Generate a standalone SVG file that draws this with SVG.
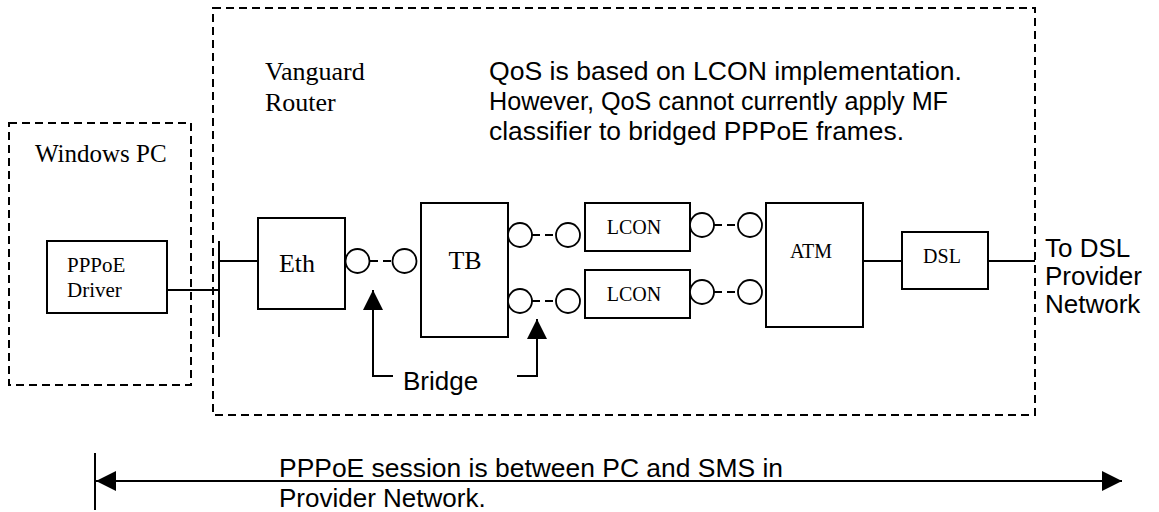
<svg xmlns="http://www.w3.org/2000/svg" width="1159" height="512" viewBox="0 0 1159 512">
<style>
.bg{fill:#ffffff}
.dash{fill:none;stroke:#000;stroke-width:2;stroke-dasharray:8 5}
.box{fill:#fff;stroke:#000;stroke-width:2}
.port{fill:#fff;stroke:#000;stroke-width:1.8}
.ln{fill:none;stroke:#000;stroke-width:2}
.dl{fill:none;stroke:#000;stroke-width:2;stroke-dasharray:8 5}
.serif{font-family:"Liberation Serif","Times New Roman",serif;fill:#000}
.sans{font-family:"Liberation Sans",Arial,sans-serif;fill:#000;font-size:26px}
</style>
<defs>
<marker id="arr" viewBox="0 0 20 20" refX="20" refY="10" markerWidth="20" markerHeight="20" markerUnits="userSpaceOnUse" orient="auto-start-reverse">
<path d="M0,0 L20,10 L0,20 z" fill="#000"/>
</marker>
</defs>
<rect class="bg" x="0" y="0" width="1159" height="512"/>

<g id="windows-pc">
<rect class="dash" x="9" y="123" width="182" height="262"/>
<text class="serif" x="35" y="162" font-size="25">Windows PC</text>
</g>

<g id="vanguard-router">
<rect class="dash" x="213" y="8" width="822" height="407"/>
<text class="serif" x="265" y="80" font-size="26">Vanguard</text>
<text class="serif" x="265" y="111" font-size="26">Router</text>
</g>

<g id="qos-note">
<text class="sans" x="489" y="80" textLength="473" lengthAdjust="spacingAndGlyphs">QoS is based on LCON implementation.</text>
<text class="sans" x="489" y="110" textLength="459" lengthAdjust="spacingAndGlyphs">However, QoS cannot currently apply MF</text>
<text class="sans" x="489" y="140" textLength="415" lengthAdjust="spacingAndGlyphs">classifier to bridged PPPoE frames.</text>
</g>

<g id="connectors">
<path class="ln" d="M167,290 H219"/>
<path class="ln" d="M219,241 V337"/>
<path class="ln" d="M219,261 H258"/>
<path class="dl" d="M370,261 H392"/>
<path class="dl" d="M532,235 H556"/>
<path class="dl" d="M532,301 H556"/>
<path class="dl" d="M714,225 H738"/>
<path class="dl" d="M714,292 H738"/>
<path class="ln" d="M863,261 H902"/>
<path class="ln" d="M988,261 H1035"/>
<path class="ln" d="M393,376 H373 V290" marker-end="url(#arr)"/>
<path class="ln" d="M517,376 H537 V319" marker-end="url(#arr)"/>
<path class="ln" d="M95,453 V510"/>
<path class="ln" d="M96,481 H1122" marker-start="url(#arr)" marker-end="url(#arr)"/>
</g>

<g id="pppoe-driver">
<rect class="box" x="47" y="241" width="120" height="72"/>
<text class="serif" x="67" y="272" font-size="21">PPPoE</text>
<text class="serif" x="67" y="297" font-size="21">Driver</text>
</g>

<g id="eth">
<rect class="box" x="258" y="218" width="87" height="91"/>
<text class="serif" x="297" y="272" font-size="26" text-anchor="middle">Eth</text>
<circle class="port" cx="357.5" cy="261" r="12"/>
</g>

<g id="tb">
<rect class="box" x="421" y="203" width="87" height="134"/>
<text class="serif" x="465" y="269" font-size="26" text-anchor="middle">TB</text>
<circle class="port" cx="404.5" cy="261" r="12"/>
<circle class="port" cx="520" cy="235" r="12"/>
<circle class="port" cx="520" cy="301" r="12"/>
</g>

<g id="lcon1">
<rect class="box" x="585" y="203" width="105" height="48"/>
<text class="serif" x="634" y="234" font-size="20" text-anchor="middle">LCON</text>
<circle class="port" cx="568" cy="235" r="12"/>
<circle class="port" cx="702" cy="225" r="12"/>
</g>

<g id="lcon2">
<rect class="box" x="585" y="270" width="105" height="48"/>
<text class="serif" x="634" y="301" font-size="20" text-anchor="middle">LCON</text>
<circle class="port" cx="568" cy="301" r="12"/>
<circle class="port" cx="702" cy="292" r="12"/>
</g>

<g id="atm">
<rect class="box" x="766" y="203" width="97" height="124"/>
<text class="serif" x="811" y="258" font-size="20" text-anchor="middle">ATM</text>
<circle class="port" cx="750" cy="225" r="12"/>
<circle class="port" cx="750" cy="292" r="12"/>
</g>

<g id="dsl">
<rect class="box" x="902" y="232" width="86" height="57"/>
<text class="serif" x="942" y="263" font-size="20" text-anchor="middle">DSL</text>
</g>

<g id="to-dsl-label">
<text class="sans" x="1045" y="257">To DSL</text>
<text class="sans" x="1045" y="285">Provider</text>
<text class="sans" x="1045" y="313">Network</text>
</g>

<g id="bridge-label">
<text class="sans" x="403" y="390">Bridge</text>
</g>

<g id="session-label">
<text class="sans" x="279" y="477" textLength="504" lengthAdjust="spacingAndGlyphs">PPPoE session is between PC and SMS in</text>
<text class="sans" x="279" y="507">Provider Network.</text>
</g>
</svg>
